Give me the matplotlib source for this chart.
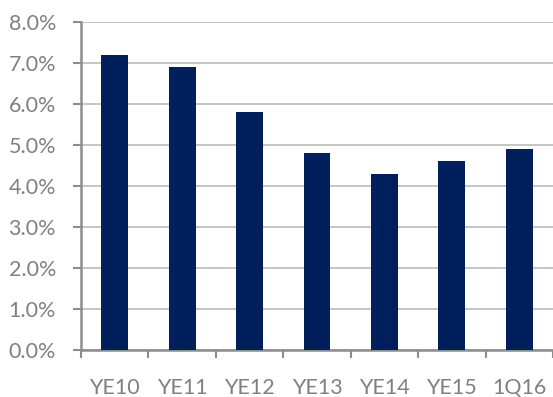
import matplotlib
matplotlib.use("Agg")
import matplotlib.pyplot as plt
from matplotlib.ticker import FixedLocator, PercentFormatter
import numpy as np

categories = ["YE10", "YE11", "YE12", "YE13", "YE14", "YE15", "1Q16"]
values = [7.2, 6.9, 5.8, 4.8, 4.3, 4.6, 4.9]
yticks = [0, 1, 2, 3, 4, 5, 6, 7, 8]

plt.rcParams['font.family'] = ['Lato', 'DejaVu Sans']

fig = plt.figure(figsize=(5.53, 3.97), dpi=100)
ax = fig.add_axes([81/553, 47/397, 1 - 81/553, (350-22)/397])

x = np.arange(len(categories))
ax.bar(x, values, width=0.4, color="#001f5b", zorder=3)

ax.set_xlim(-0.5, len(categories) - 0.5)
ax.set_ylim(0, 8)
ax.set_yticks(yticks)
ax.yaxis.set_major_formatter(PercentFormatter(decimals=1))
ax.yaxis.grid(True, color="#c0c0c0", linewidth=1.3, zorder=0)

ax.set_xticks(x)
ax.set_xticklabels(categories)
ax.xaxis.set_minor_locator(FixedLocator(np.arange(-0.5, len(categories), 1.0)))
ax.tick_params(axis='x', which='major', length=0, pad=20, labelsize=15.5, labelcolor="#808080")
ax.tick_params(axis='x', which='minor', length=6, width=1.5, color="#8c8c8c", direction='out')
ax.tick_params(axis='y', length=6, width=1.5, color="#8c8c8c", pad=12, labelsize=15.5, labelcolor="#808080")

for s in ['top', 'right']:
    ax.spines[s].set_visible(False)
for s in ['left', 'bottom']:
    ax.spines[s].set_color("#8c8c8c")
    ax.spines[s].set_linewidth(1.8)

fig.savefig("out.png", dpi=100)
